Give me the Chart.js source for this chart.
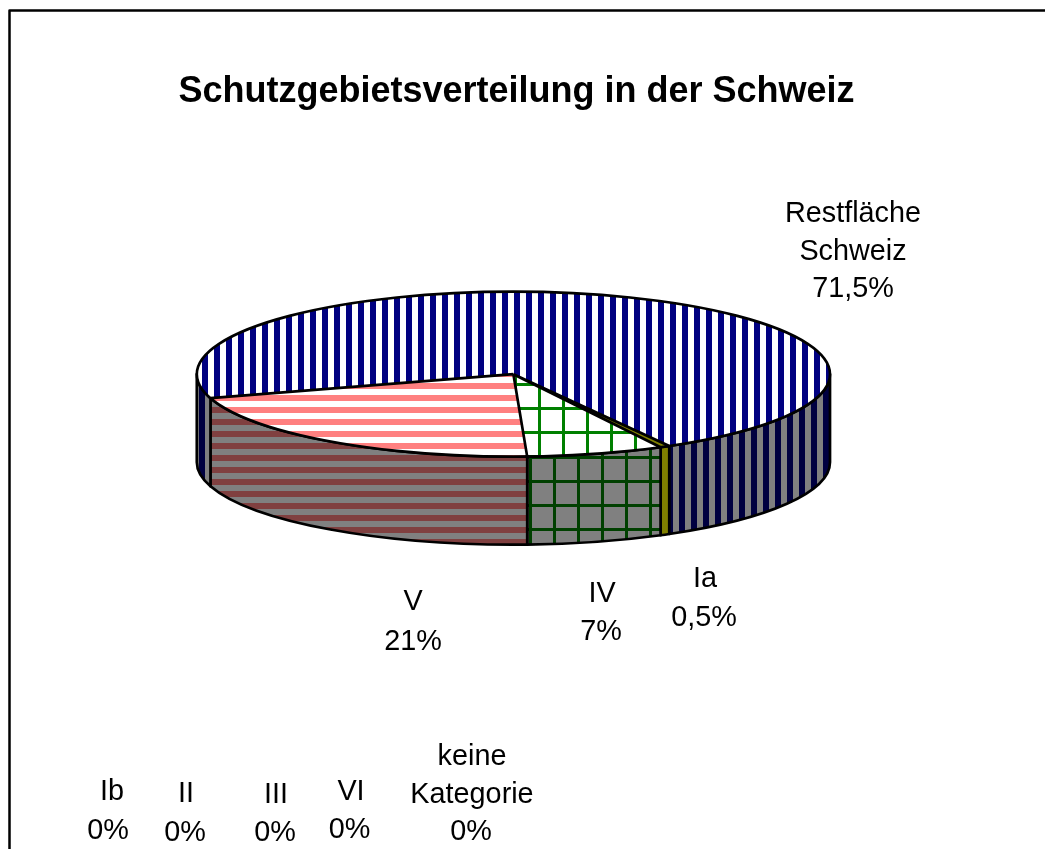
<!DOCTYPE html>
<html lang="de">
<head>
<meta charset="utf-8">
<title>Schutzgebietsverteilung in der Schweiz</title>
<script src="https://cdn.jsdelivr.net/npm/chart.js@4/dist/chart.umd.js"></script>
<style>
  html, body { margin: 0; padding: 0; background: #fff; overflow: hidden; }
  canvas { display: block; }
</style>
</head>
<body>
<canvas id="pie" width="1045" height="849"></canvas>
<script>
const chartTitle = 'Schutzgebietsverteilung in der Schweiz';
const categories = ['Ia', 'Ib', 'II', 'III', 'IV', 'V', 'VI', 'keine Kategorie', 'Restfläche Schweiz'];
const shares = [0.5, 0, 0, 0, 7, 21, 0, 0, 71.5];

// labels were hand placed in the original: centre x and baseline of the name, then of the value line
const labelOrder = ['Ia', 'Ib', 'II', 'III', 'VI', 'keine Kategorie', 'V', 'IV', 'Restfläche Schweiz'];
const labelX = [705, 112, 186, 276, 351, 472, 413, 602, 853];
const labelY = [587, 800, 802, 803, 800, 765, 610, 602, 222];
const valueX = [704, 108, 185, 275, 349.5, 471, 413, 601, 853];
const labelGap = [39, 39, 39, 38, 38, 37.5, 40, 38, 37.5];

// flattened pie geometry
const cx = 513.4, cy = 374.2, rx = 316.6, ry = 82.5, depth = 88;
const flat = ry / rx;

function tile(w, h, bg, fg, paint) {
  const c = document.createElement('canvas');
  c.width = w;
  c.height = h;
  const g = c.getContext('2d');
  g.fillStyle = bg;
  g.fillRect(0, 0, w, h);
  g.fillStyle = fg;
  paint(g);
  return c;
}
const barsV = (bg, fg) => tile(12, 12, bg, fg, g => g.fillRect(0, 0, 6, 12));
const barsH = (bg, fg) => tile(12, 12, bg, fg, g => g.fillRect(0, 0, 12, 6));
const grid = (bg, fg) => tile(24, 24, bg, fg, g => { g.fillRect(0, 0, 3, 24); g.fillRect(0, 0, 24, 3); });

const ctx = document.getElementById('pie').getContext('2d');

// screen-space pattern, for the side wall
function wallPattern(c, ox, oy) {
  const p = ctx.createPattern(c, 'repeat');
  p.setTransform(new DOMMatrix().translate(ox, oy));
  return p;
}
// the top face is drawn squashed, so undo the squash on the pattern
function topPattern(c, ox, oy) {
  const p = ctx.createPattern(c, 'repeat');
  p.setTransform(new DOMMatrix().translate(cx, cy).scale(1, 1 / flat).translate(-cx, -cy).translate(ox, oy));
  return p;
}

const topFills = [
  '#808000', '#fff', '#fff', '#fff',
  topPattern(grid('#fff', '#008000'), 10, 23),
  topPattern(barsH('#fff', '#ff8080'), 0, 11),
  '#fff', '#fff',
  topPattern(barsV('#fff', '#000080'), 10, 0)
];
const wallFills = [
  '#808000', '#808080', '#808080', '#808080',
  wallPattern(grid('#808080', '#004000'), 1, 0),
  wallPattern(barsH('#808080', '#804040'), 0, 11),
  '#808080', '#808080',
  wallPattern(barsV('#808080', '#000040'), 7, 0)
];

const pie3d = {
  id: 'pie3d',
  beforeDatasetsDraw(chart) {
    const c = chart.ctx;
    const arcs = chart.getDatasetMeta(0).data;
    c.strokeStyle = '#000';
    c.lineWidth = 2.7;
    c.lineJoin = 'round';
    arcs.forEach((arc, i) => {
      if (!arc.circumference) return;
      // only the part facing the viewer has a wall
      [[0, Math.PI], [2 * Math.PI, 3 * Math.PI]].forEach(([lo, hi]) => {
        const a = Math.max(arc.startAngle, lo), b = Math.min(arc.endAngle, hi);
        if (b <= a) return;
        c.beginPath();
        c.ellipse(cx, cy, rx, ry, 0, a, b);
        c.ellipse(cx, cy + depth, rx, ry, 0, b, a, true);
        c.closePath();
        c.fillStyle = wallFills[i];
        c.fill();
        c.stroke();
      });
    });
    c.save();
    c.translate(cx, cy);
    c.scale(1, flat);
    c.translate(-cx, -cy);
  },
  afterDatasetsDraw(chart) {
    const c = chart.ctx;
    c.restore();
    const arcs = chart.getDatasetMeta(0).data;
    c.strokeStyle = '#000';
    c.lineWidth = 2.7;
    c.beginPath();
    c.ellipse(cx, cy, rx, ry, 0, 0, 2 * Math.PI);
    arcs.forEach(arc => {
      if (!arc.circumference) return;
      c.moveTo(cx, cy);
      c.lineTo(cx + rx * Math.cos(arc.startAngle), cy + ry * Math.sin(arc.startAngle));
    });
    c.stroke();
  }
};

const textLayer = {
  id: 'textLayer',
  afterDraw(chart) {
    const c = chart.ctx;
    c.save();
    // frame runs off the right and bottom of the picture
    c.strokeStyle = '#000';
    c.lineWidth = 2.5;
    c.beginPath();
    c.moveTo(9.5, 849);
    c.lineTo(9.5, 10.5);
    c.lineTo(1045, 10.5);
    c.stroke();

    c.fillStyle = '#000';
    c.textAlign = 'center';
    c.textBaseline = 'alphabetic';
    c.font = 'bold 36px "Liberation Sans", Arial, sans-serif';
    c.fillText(chartTitle, 516.5, 102);

    c.font = '28.8px "Liberation Sans", Arial, sans-serif';
    labelOrder.forEach((name, n) => {
      const share = shares[categories.indexOf(name)];
      const words = name.split(' ');
      words.forEach((word, k) => c.fillText(word, labelX[n], labelY[n] + k * labelGap[n]));
      c.fillText(String(share).replace('.', ',') + '%', valueX[n], labelY[n] + words.length * labelGap[n]);
    });
    c.restore();
  }
};

new Chart(ctx, {
  type: 'pie',
  data: {
    labels: categories,
    datasets: [{
      data: shares,
      backgroundColor: topFills,
      borderWidth: 0,
      hoverOffset: 0
    }]
  },
  options: {
    responsive: false,
    animation: false,
    rotation: 150.5,
    events: [],
    layout: {
      padding: { left: cx - rx, right: 1045 - cx - rx, top: cy - rx, bottom: 849 - cy - rx }
    },
    plugins: {
      legend: { display: false },
      title: { display: false },
      tooltip: { enabled: false }
    }
  },
  plugins: [pie3d, textLayer]
});
</script>
</body>
</html>
